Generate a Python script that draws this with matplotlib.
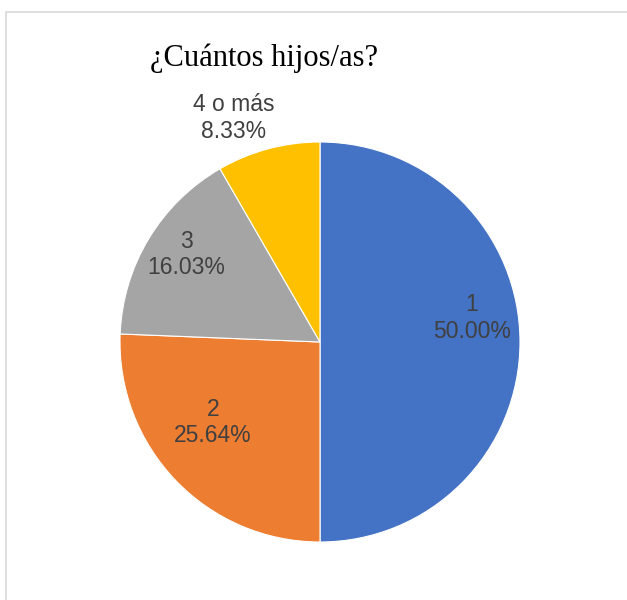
import numpy as np
import matplotlib.pyplot as plt
from matplotlib.patches import Rectangle

# Number of children (respondents), clockwise from 12 o'clock
categories = ["1", "2", "3", "4 o más"]
counts = [78, 40, 25, 13]
colors = ["#4472C4", "#ED7D31", "#A5A5A5", "#FFC000"]

# label placement (fraction of radius, angle tweak in degrees)
label_dist = [0.77, 0.67, 0.80, 1.20]
label_turn = [9, -7, -2, 6]

W, H = 627, 600
fig = plt.figure(figsize=(W / 100, H / 100), dpi=100)
ax = fig.add_axes([0, 0, 1, 1])
ax.set_xlim(0, W)
ax.set_ylim(0, H)
ax.set_aspect("equal")
ax.axis("off")

cx, cy, r = 320, H - 342, 200
wedges, _ = ax.pie(counts, colors=colors, startangle=90, counterclock=False,
                   radius=r, center=(cx, cy), frame=True,
                   wedgeprops=dict(edgecolor="white", linewidth=0.8))
ax.set_xlim(0, W)
ax.set_ylim(0, H)
ax.axis("off")

total = float(sum(counts))
for w, cat, n, d, t in zip(wedges, categories, counts, label_dist, label_turn):
    ang = np.deg2rad((w.theta1 + w.theta2) / 2 + t)
    x = cx + d * r * np.cos(ang)
    y = cy + d * r * np.sin(ang)
    ax.text(x, y, "{}\n{:.2f}%".format(cat, n / total * 100), ha="center", va="center",
            fontsize=16.5, color="#404040", family="Liberation Sans", linespacing=1.2)

ax.text(264, H - 58, "¿Cuántos hijos/as?", ha="center", va="center",
        fontsize=22, color="black", family="Liberation Serif")

# chart border
fig.patches.append(Rectangle((5.5 / W, -0.1), 1.2, (H - 11.5) / H + 0.1,
                             transform=fig.transFigure, fill=False,
                             edgecolor="#D9D9D9", linewidth=1.2))

fig.savefig("out.png", dpi=100)
